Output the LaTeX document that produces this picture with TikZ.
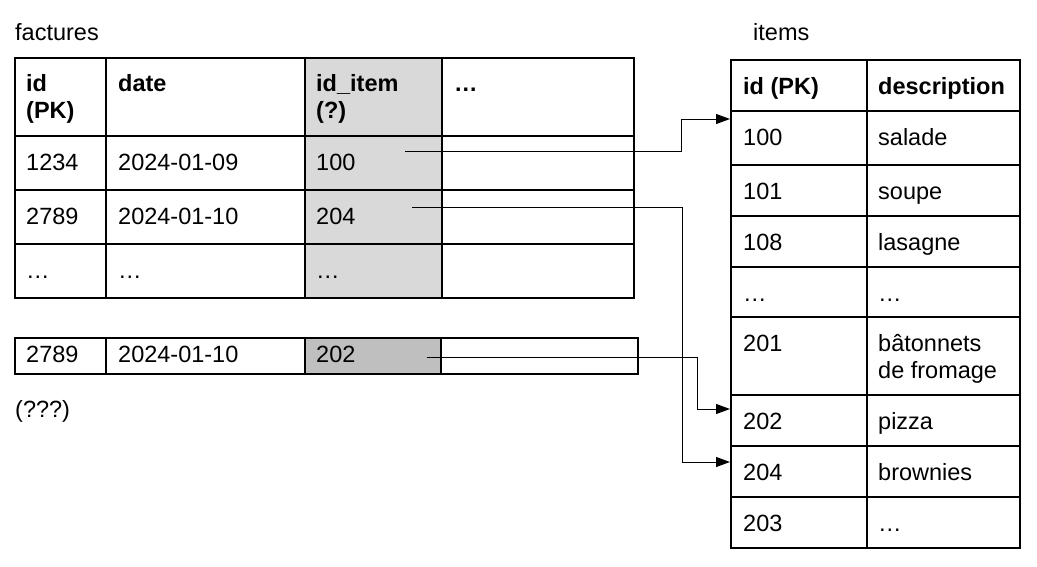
\documentclass[tikz,border=0pt]{standalone}
\usepackage{fontspec}
\setmainfont{Liberation Sans}
\usetikzlibrary{arrows.meta}
\newcommand\twolines[2]{\begin{tabular}[t]{@{}l@{}}#1\\#2\end{tabular}}
\begin{document}
\begin{tikzpicture}[x=1pt,y=-1pt,
  grid/.style={line width=2pt, line join=miter},
  txt/.style={anchor=base west, inner sep=0pt, font=\fontsize{23.5}{27}\selectfont},
  hdr/.style={anchor=base west, inner sep=0pt, font=\fontsize{23.5}{27}\selectfont\bfseries},
  link/.style={line width=1pt, -{Triangle[length=14pt,width=10pt]}}]
\useasboundingbox (0,0) rectangle (1037,566);
\fill[white] (0,0) rectangle (1037,566);

% ---------- factures ----------
\node[txt] (lfact) at (15,40) {factures};
\fill[fill={rgb,255:red,217;green,217;blue,217}] (305,58) rectangle (442,298);
\draw[grid] (15,58) rectangle (634,298);
\foreach \x in {106,305,442} \draw[grid] (\x,58) -- (\x,298);
\foreach \y in {136,190,244} \draw[grid] (15,\y) -- (634,\y);

\node[hdr] (fh1) at (26,91) {\twolines{id}{(PK)}};
\node[hdr] (fh2) at (118,91) {date};
\node[hdr] (fh3) at (316,91) {\twolines{id\_item}{(?)}};
\node[hdr] (fh4) at (454,91) {…};

\node[txt] (f11) at (26,170) {1234};
\node[txt] (f12) at (118,170) {2024-01-09};
\node[txt] (f13) at (316,170) {100};
\node[txt] (f21) at (26,224) {2789};
\node[txt] (f22) at (118,224) {2024-01-10};
\node[txt] (f23) at (316,224) {204};
\node[txt] (f31) at (26,278) {…};
\node[txt] (f32) at (118,278) {…};
\node[txt] (f33) at (316,278) {…};

% ---------- extra row ----------
\fill[fill={rgb,255:red,191;green,191;blue,191}] (305,338) rectangle (441,374);
\draw[grid] (15,338) rectangle (638,374);
\foreach \x in {106,305,441} \draw[grid] (\x,338) -- (\x,374);
\node[txt] (g1) at (26,362) {2789};
\node[txt] (g2) at (118,362) {2024-01-10};
\node[txt] (g3) at (316,362) {202};
\node[txt] (lq) at (15,417) {(???)};

% ---------- items ----------
\node[txt] (litems) at (753,40) {items};
\draw[grid] (731,60) rectangle (1020,548);
\draw[grid] (867,60) -- (867,548);
\foreach \y in {111,165,216,267,317,395,446,497} \draw[grid] (731,\y) -- (1020,\y);

\node[hdr] (ih1) at (743,94) {id (PK)};
\node[hdr] (ih2) at (878,94) {description};
\node[txt] (i1a) at (743,145) {100};
\node[txt] (i1b) at (878,145) {salade};
\node[txt] (i2a) at (743,199) {101};
\node[txt] (i2b) at (878,199) {soupe};
\node[txt] (i3a) at (743,250) {108};
\node[txt] (i3b) at (878,250) {lasagne};
\node[txt] (i4a) at (743,301) {…};
\node[txt] (i4b) at (878,301) {…};
\node[txt] (i5a) at (743,351) {201};
\node[txt] (i5b) at (878,351) {\twolines{bâtonnets}{de fromage}};
\node[txt] (i6a) at (743,429) {202};
\node[txt] (i6b) at (878,429) {pizza};
\node[txt] (i7a) at (743,480) {204};
\node[txt] (i7b) at (878,480) {brownies};
\node[txt] (i8a) at (743,531) {203};
\node[txt] (i8b) at (878,531) {…};

% ---------- connectors ----------
\coordinate (s100) at (405,151);
\coordinate (s204) at (412,207);
\coordinate (s202) at (427,357);
\coordinate (t100) at (730,119);
\coordinate (t204) at (730,462);
\coordinate (t202) at (730,409);
\draw[link] (s100) -- (681,151) -- (681,119) -- (t100);
\draw[link] (s204) -- (682,207) -- (682,462) -- (t204);
\draw[link] (s202) -- (697,357) -- (697,409) -- (t202);
\end{tikzpicture}
\end{document}
